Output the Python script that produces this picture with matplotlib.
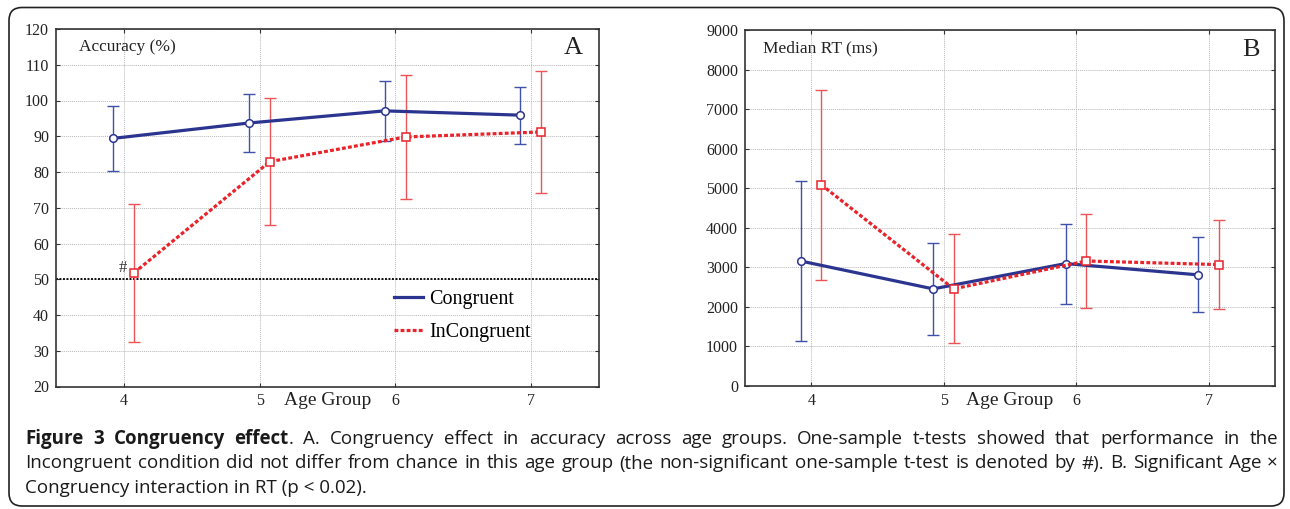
import matplotlib
matplotlib.use("Agg")
import matplotlib.pyplot as plt
import numpy as np
from matplotlib.lines import Line2D
from matplotlib.patches import FancyBboxPatch
from matplotlib.transforms import IdentityTransform

# ---------------- data ----------------
ages = [4, 5, 6, 7]
age_ticks = [4, 5, 6, 7]

acc_cong = [89.4, 93.7, 97.1, 95.9]
acc_cong_err = [9.2, 8.2, 8.4, 8.0]
acc_incong = [51.8, 82.9, 89.8, 91.2]
acc_incong_err = [19.3, 17.8, 17.4, 17.0]

rt_cong = [3160, 2455, 3095, 2810]
rt_cong_err = [2010, 1160, 1010, 950]
rt_incong = [5090, 2455, 3160, 3070]
rt_incong_err = [2400, 1380, 1190, 1130]

acc_yticks = [20, 30, 40, 50, 60, 70, 80, 90, 100, 110, 120]
rt_yticks = [0, 1000, 2000, 3000, 4000, 5000, 6000, 7000, 8000, 9000]
chance_level = 50

series_labels = ["Congruent", "InCongruent"]

caption_line1 = [[("Figure", "bold")], [("3", "bold")], [("Congruency", "bold")],
                 [("effect", "bold"), (".", "normal")]] + \
    [[(w, "normal")] for w in "A. Congruency effect in accuracy across age groups. One-sample t-tests showed that performance in the".split()]
caption_line2 = [[(w, "normal")] for w in
                 "Incongruent condition did not differ from chance in this age group (the non-significant one-sample t-test is denoted by #). B. Significant Age \u00d7".split()]
caption_line3 = "Congruency interaction in RT (p < 0.02)."

# ---------------- style ----------------
W, H = 1290, 509
NAVY = "#2b3590"
NAVY_ERR = "#3f51a8"
RED = "#e8232a"
RED_ERR = "#ec5457"
SERIF = ["Liberation Serif", "DejaVu Serif"]
plt.rcParams["font.family"] = SERIF
off_c, off_i = -0.08, 0.075

fig = plt.figure(figsize=(W / 100, H / 100), dpi=100)
fig.patch.set_facecolor("white")


def fx(px):
    return px / W


def fy(py):
    return 1 - py / H


axA = fig.add_axes([fx(56), fy(386.5), fx(599 - 56), (386.5 - 29) / H])
axB = fig.add_axes([fx(745), fy(386), fx(1275 - 745), (386 - 30) / H])


def style_axes(ax, yticks):
    ax.set_xlim(3.5, 7.5)
    ax.set_ylim(yticks[0], yticks[-1])
    ax.set_xticks(age_ticks)
    ax.set_yticks(yticks)
    ax.grid(True, color="#b8b8b8", linestyle=(0, (1, 1)), linewidth=0.7)
    ax.set_axisbelow(True)
    for s in ax.spines.values():
        s.set_color("#333333")
        s.set_linewidth(1.2)
    ax.tick_params(direction="in", length=3, width=0.8, colors="#333333",
                   labelcolor="#222222", top=True, right=True, pad=5, labelsize=11.5,
                   labelfontfamily="Liberation Serif")
    ax.text(5.5, -0.04, "Age Group", transform=ax.get_xaxis_transform(),
            ha="center", va="center", fontsize=14, color="#222222")


def plot_series(ax, x, y, e, color, ecolor, marker, ls):
    ax.errorbar(x, y, yerr=e, fmt="none", ecolor=ecolor, elinewidth=1.0,
                capsize=4.5, capthick=1.0, zorder=3)
    ax.plot(x, y, color=color, lw=2.3, linestyle=ls, zorder=4,
            marker=marker, markersize=5.5, markerfacecolor="white",
            markeredgecolor=color, markeredgewidth=1.1)


dash = (0, (1.2, 0.7))
xc = np.array(ages) + off_c
xi = np.array(ages) + off_i

# ---- panel A ----
style_axes(axA, acc_yticks)
axA.axhline(chance_level, color="#111111", lw=1.4, linestyle=(0, (1, 0.8)), zorder=2)
plot_series(axA, xc, acc_cong, acc_cong_err, NAVY, NAVY_ERR, "o", "-")
plot_series(axA, xi, acc_incong, acc_incong_err, RED, RED_ERR, "s", dash)
axA.text(0.043, 0.951, "Accuracy (%)", transform=axA.transAxes, ha="left", va="center",
         fontsize=12.5, color="#222222")
axA.text(0.953, 0.946, "A", transform=axA.transAxes, ha="center", va="center",
         fontsize=19, color="#222222")
axA.text(ages[0] - 0.01, 53.2, "#", ha="center", va="center",
         fontsize=12, color="#333333")
handles = [Line2D([], [], color=NAVY, lw=2.3),
           Line2D([], [], color=RED, lw=2.3, linestyle=dash)]
axA.legend(handles, series_labels, loc="upper left", bbox_to_anchor=(0.622, 0.27),
           frameon=False, handlelength=1.45, handletextpad=0.3, labelspacing=0.7,
           borderpad=0, borderaxespad=0, prop={"size": 14.5})

# ---- panel B ----
style_axes(axB, rt_yticks)
plot_series(axB, xc, rt_cong, rt_cong_err, NAVY, NAVY_ERR, "o", "-")
plot_series(axB, xi, rt_incong, rt_incong_err, RED, RED_ERR, "s", dash)
axB.text(0.034, 0.949, "Median RT (ms)", transform=axB.transAxes, ha="left", va="center",
         fontsize=12.5, color="#222222")
axB.text(0.955, 0.943, "B", transform=axB.transAxes, ha="center", va="center",
         fontsize=19, color="#222222")

# ---- outer rounded border ----
border = FancyBboxPatch((9, 3), 1275, 498.5, boxstyle="round,pad=0,rounding_size=13",
                        transform=IdentityTransform(), facecolor="none",
                        edgecolor="#222222", linewidth=1.2)
fig.patches.append(border)

# ---- caption (justified) ----
CAP_FONT = ["Open Sans", "DejaVu Sans"]
CAP_SIZE = 13.5
renderer = fig.canvas.get_renderer()


def place_line(tokens, base_y, x0, x1, justify=True):
    objs = []
    widths = []
    for tok in tokens:
        pieces = []
        wsum = 0
        for txt, wt in tok:
            t = fig.text(0, fy(base_y), txt, family=CAP_FONT, fontsize=CAP_SIZE,
                         weight=wt, ha="left", va="baseline", color="#1a1a1a")
            w = t.get_window_extent(renderer).width
            pieces.append((t, w))
            wsum += w
        objs.append(pieces)
        widths.append(wsum)
    if justify and len(tokens) > 1:
        gap = (x1 - x0 - sum(widths)) / (len(tokens) - 1)
    else:
        gap = 4.0
    x = x0
    for pieces, w in zip(objs, widths):
        px = x
        for t, pw in pieces:
            t.set_x(fx(px))
            px += pw
        x += w + gap


place_line(caption_line1, 444, 25, 1278)
place_line(caption_line2, 468.5, 25, 1278)
fig.text(fx(25), fy(493), caption_line3, family=CAP_FONT, fontsize=CAP_SIZE,
         ha="left", va="baseline", color="#1a1a1a")

fig.savefig("out.png", dpi=100, facecolor="white")
